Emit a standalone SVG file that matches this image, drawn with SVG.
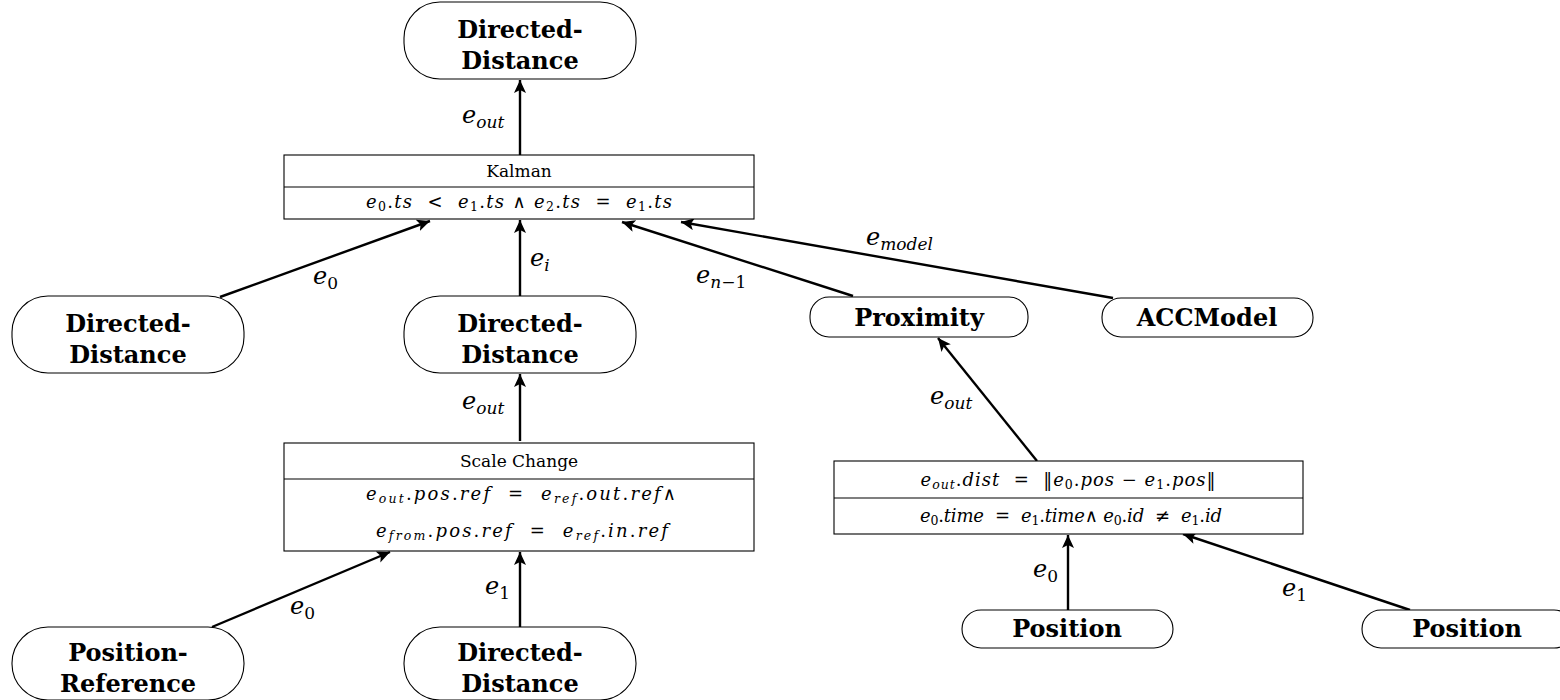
<svg xmlns="http://www.w3.org/2000/svg" width="1560" height="700" viewBox="0 0 1560 700">
  <defs>
    <marker id="arrow" markerUnits="userSpaceOnUse" markerWidth="16" markerHeight="14" refX="13" refY="6" orient="auto">
      <path d="M0,0 L13,6 L0,12 L3,6 z" fill="#000"/>
    </marker>
    <style>
      .node { fill: #fff; stroke: #000; stroke-width: 1.1; }
      .box { fill: #fff; stroke: #000; stroke-width: 1.1; }
      .div { stroke: #000; stroke-width: 1.1; }
      .lbl { font-family: "DejaVu Serif", "Liberation Serif", serif; font-weight: bold; font-size: 24px; fill: #000; text-anchor: middle; }
      .title { font-family: "DejaVu Serif", "Liberation Serif", serif; font-size: 17px; fill: #000; text-anchor: middle; }
      .math { font-family: "DejaVu Serif", "Liberation Serif", serif; font-size: 18px; fill: #000; text-anchor: middle; }
      .math .v { font-style: italic; }
      .math .s { font-size: 12.5px; }
      .edge { stroke: #000; stroke-width: 2.4; fill: none; marker-end: url(#arrow); }
      .el { font-family: "DejaVu Serif", "Liberation Serif", serif; font-size: 24px; font-style: italic; fill: #000; }
      .el .s { font-size: 17px; }
      .el .n { font-style: normal; }
    </style>
  </defs>

  <!-- connectors -->
  <g id="connectors">
    <line class="edge" x1="520" y1="155" x2="520" y2="80"/>
    <line class="edge" x1="220" y1="297" x2="430" y2="221"/>
    <line class="edge" x1="520" y1="296" x2="520" y2="220"/>
    <line class="edge" x1="853" y1="296" x2="622" y2="222"/>
    <line class="edge" x1="1113" y1="298" x2="681" y2="222"/>
    <line class="edge" x1="520" y1="441" x2="520" y2="374"/>
    <line class="edge" x1="212" y1="627" x2="390" y2="552"/>
    <line class="edge" x1="520" y1="627" x2="520" y2="552"/>
    <line class="edge" x1="1037" y1="461" x2="938" y2="338"/>
    <line class="edge" x1="1068" y1="610" x2="1068" y2="535"/>
    <line class="edge" x1="1410" y1="610" x2="1183" y2="534"/>

    <text class="el" x="462" y="123">e<tspan class="s" dy="5">out</tspan></text>
    <text class="el" x="313" y="284">e<tspan class="s n" dy="5">0</tspan></text>
    <text class="el" x="530" y="266">e<tspan class="s" dy="5">i</tspan></text>
    <text class="el" x="696" y="283">e<tspan class="s" dy="5">n</tspan><tspan class="s n">−1</tspan></text>
    <text class="el" x="866" y="245">e<tspan class="s" dy="5">model</tspan></text>
    <text class="el" x="462" y="409">e<tspan class="s" dy="5">out</tspan></text>
    <text class="el" x="290" y="614">e<tspan class="s n" dy="5">0</tspan></text>
    <text class="el" x="485" y="594">e<tspan class="s n" dy="5">1</tspan></text>
    <text class="el" x="930" y="404">e<tspan class="s" dy="5">out</tspan></text>
    <text class="el" x="1033" y="577">e<tspan class="s n" dy="5">0</tspan></text>
    <text class="el" x="1282" y="596">e<tspan class="s n" dy="5">1</tspan></text>
  </g>

  <!-- nodes -->
  <g id="dd-top">
    <rect class="node" x="404" y="2" width="232" height="77" rx="36" ry="36"/>
    <text class="lbl" x="520" y="38">Directed-</text>
    <text class="lbl" x="520" y="69">Distance</text>
  </g>

  <g id="kalman">
    <rect class="box" x="284" y="155" width="470" height="64"/>
    <line class="div" x1="284" y1="187" x2="754" y2="187"/>
    <text class="title" x="519" y="177">Kalman</text>
    <text class="math" x="519" y="208" textLength="306" lengthAdjust="spacing" xml:space="preserve"><tspan class="v">e</tspan><tspan class="s" dy="3">0</tspan><tspan dy="-3">.</tspan><tspan class="v">ts</tspan>  &lt;  <tspan class="v">e</tspan><tspan class="s" dy="3">1</tspan><tspan dy="-3">.</tspan><tspan class="v">ts</tspan> ∧ <tspan class="v">e</tspan><tspan class="s" dy="3">2</tspan><tspan dy="-3">.</tspan><tspan class="v">ts</tspan>  =  <tspan class="v">e</tspan><tspan class="s" dy="3">1</tspan><tspan dy="-3">.</tspan><tspan class="v">ts</tspan></text>
  </g>

  <g id="dd-left">
    <rect class="node" x="12" y="296" width="232" height="77" rx="36" ry="36"/>
    <text class="lbl" x="128" y="332">Directed-</text>
    <text class="lbl" x="128" y="363">Distance</text>
  </g>

  <g id="dd-mid">
    <rect class="node" x="404" y="296" width="232" height="77" rx="36" ry="36"/>
    <text class="lbl" x="520" y="332">Directed-</text>
    <text class="lbl" x="520" y="363">Distance</text>
  </g>

  <g id="proximity">
    <rect class="node" x="810" y="297" width="218" height="40" rx="19" ry="19"/>
    <text class="lbl" x="919" y="326">Proximity</text>
  </g>

  <g id="accmodel">
    <rect class="node" x="1102" y="298" width="211" height="39" rx="19" ry="19"/>
    <text class="lbl" x="1207" y="326">ACCModel</text>
  </g>

  <g id="scale-change">
    <rect class="box" x="284" y="443" width="470" height="108"/>
    <line class="div" x1="284" y1="479" x2="754" y2="479"/>
    <text class="title" x="519" y="467">Scale Change</text>
    <text class="math" x="521" y="500" textLength="310" lengthAdjust="spacing" xml:space="preserve"><tspan class="v">e</tspan><tspan class="s v" dy="3">out</tspan><tspan dy="-3">.</tspan><tspan class="v">pos</tspan>.<tspan class="v">ref</tspan>  =  <tspan class="v">e</tspan><tspan class="s v" dy="3">ref</tspan><tspan dy="-3">.</tspan><tspan class="v">out</tspan>.<tspan class="v">ref</tspan>∧</text>
    <text class="math" x="522" y="537" textLength="292" lengthAdjust="spacing" xml:space="preserve"><tspan class="v">e</tspan><tspan class="s v" dy="3">from</tspan><tspan dy="-3">.</tspan><tspan class="v">pos</tspan>.<tspan class="v">ref</tspan>  =  <tspan class="v">e</tspan><tspan class="s v" dy="3">ref</tspan><tspan dy="-3">.</tspan><tspan class="v">in</tspan>.<tspan class="v">ref</tspan></text>
  </g>

  <g id="pos-ref">
    <rect class="node" x="12" y="627" width="232" height="73" rx="36" ry="36"/>
    <text class="lbl" x="128" y="661">Position-</text>
    <text class="lbl" x="128" y="692">Reference</text>
  </g>

  <g id="dd-bottom">
    <rect class="node" x="404" y="627" width="232" height="73" rx="36" ry="36"/>
    <text class="lbl" x="520" y="661">Directed-</text>
    <text class="lbl" x="520" y="692">Distance</text>
  </g>

  <g id="distance-op">
    <rect class="box" x="834" y="461" width="469" height="73"/>
    <line class="div" x1="834" y1="498" x2="1303" y2="498"/>
    <text class="math" x="1068" y="486" textLength="295" lengthAdjust="spacing" xml:space="preserve"><tspan class="v">e</tspan><tspan class="s v" dy="3">out</tspan><tspan dy="-3">.</tspan><tspan class="v">dist</tspan>  =  ‖<tspan class="v">e</tspan><tspan class="s" dy="3">0</tspan><tspan dy="-3">.</tspan><tspan class="v">pos</tspan> − <tspan class="v">e</tspan><tspan class="s" dy="3">1</tspan><tspan dy="-3">.</tspan><tspan class="v">pos</tspan>‖</text>
    <text class="math" x="1071" y="522" textLength="302" lengthAdjust="spacing" xml:space="preserve"><tspan class="v">e</tspan><tspan class="s" dy="3">0</tspan><tspan dy="-3">.</tspan><tspan class="v">time</tspan>  =  <tspan class="v">e</tspan><tspan class="s" dy="3">1</tspan><tspan dy="-3">.</tspan><tspan class="v">time</tspan>∧ <tspan class="v">e</tspan><tspan class="s" dy="3">0</tspan><tspan dy="-3">.</tspan><tspan class="v">id</tspan>  ≠  <tspan class="v">e</tspan><tspan class="s" dy="3">1</tspan><tspan dy="-3">.</tspan><tspan class="v">id</tspan></text>
  </g>

  <g id="position-left">
    <rect class="node" x="962" y="610" width="211" height="38" rx="19" ry="19"/>
    <text class="lbl" x="1067" y="637">Position</text>
  </g>

  <g id="position-right">
    <rect class="node" x="1362" y="610" width="211" height="38" rx="19" ry="19"/>
    <text class="lbl" x="1467" y="637">Position</text>
  </g>
</svg>
